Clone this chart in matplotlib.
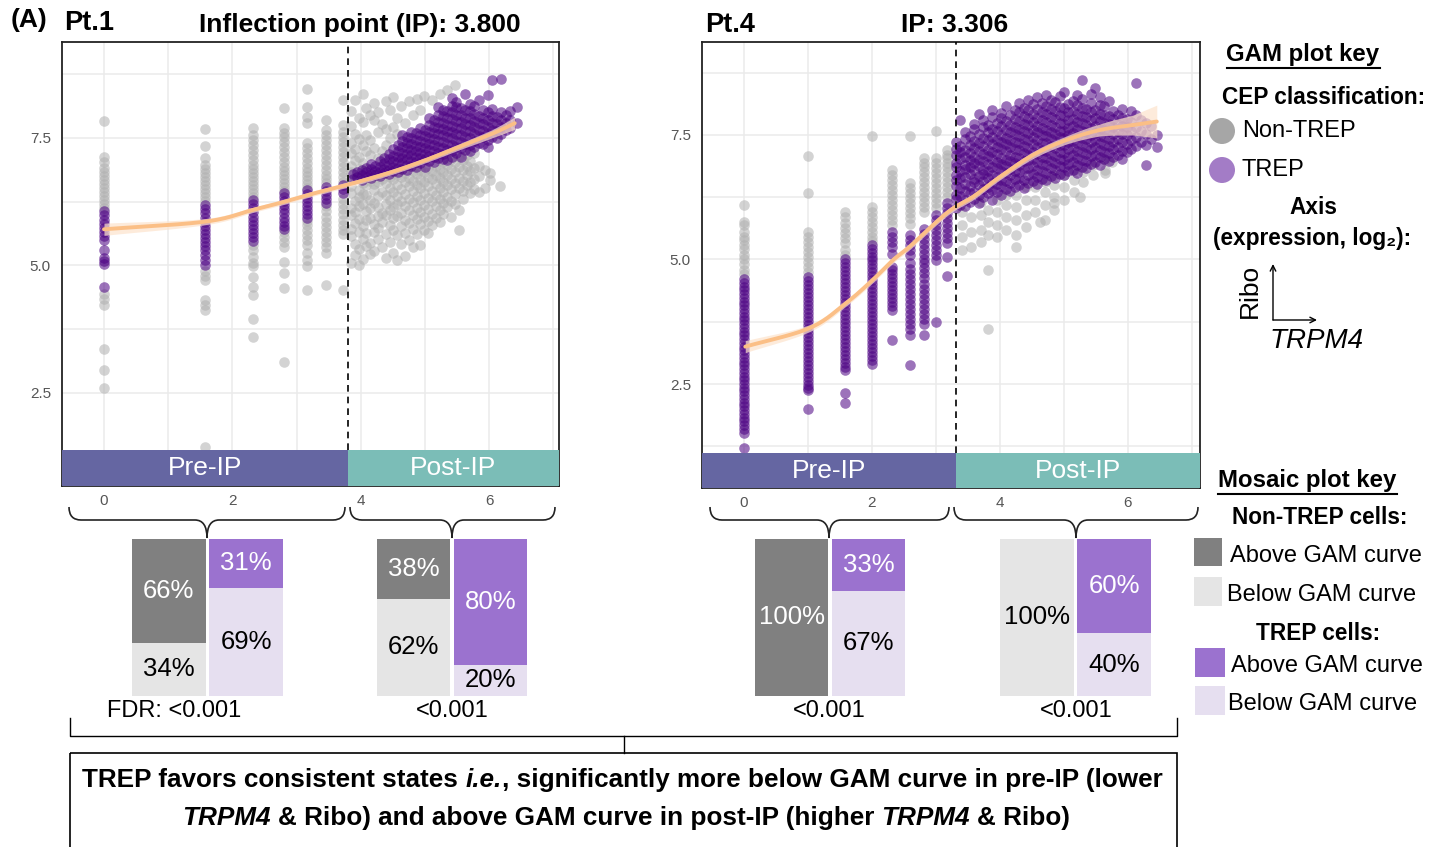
import matplotlib
matplotlib.use("Agg")
import matplotlib.pyplot as plt
from matplotlib.patches import Rectangle, Circle, PathPatch
from matplotlib.path import Path
import numpy as np

# ---------------- data ----------------
# GAM panels: columns of (log2 TRPM4 value, [Ribo values])
pt1_pre_x = [0.0, 1.58, 2.32, 2.81, 3.17, 3.46, 3.72]
pt1_pre_non = [
    [7.83, 7.12, 7.02, 6.92, 6.84, 6.76, 6.68, 6.60, 6.52, 6.44, 6.36, 6.28, 6.20, 6.12,
     4.45, 4.35, 4.22, 3.37, 2.95, 2.60],
    [7.67, 7.34, 7.10, 6.98, 6.90, 6.82, 6.74, 6.66, 6.58, 6.50, 6.42, 6.34, 6.26,
     4.90, 4.80, 4.71, 4.32, 4.22, 4.12, 1.45],
    [7.69, 7.56, 7.46, 7.36, 7.26, 7.16, 7.07, 6.98, 6.90, 6.82, 6.74, 6.66, 6.58, 6.50,
     6.42, 6.34, 5.40, 5.30, 5.17, 5.05, 4.98, 4.78, 4.58, 4.42, 3.96, 3.60],
    [8.08, 7.69, 7.60, 7.52, 7.42, 7.33, 7.23, 7.13, 7.03, 6.94, 6.86, 6.78, 6.70, 6.62,
     6.54, 6.46, 5.66, 5.56, 5.46, 5.37, 5.07, 4.85, 4.55, 3.11],
    [8.47, 8.11, 7.92, 7.79, 7.40, 7.30, 7.20, 7.10, 7.00, 6.92, 6.84, 6.76, 6.68, 6.60,
     6.52, 5.88, 5.80, 5.70, 5.60, 5.50, 5.40, 5.24, 5.11, 4.98, 4.52],
    [7.85, 7.66, 7.56, 7.46, 7.36, 7.26, 7.16, 7.07, 6.97, 6.87, 6.78, 6.70, 6.62, 6.16,
     6.06, 5.96, 5.86, 5.76, 5.66, 5.56, 5.46, 5.37, 5.24, 4.62],
    [8.24, 7.75, 7.62, 7.52, 7.43, 7.33, 7.23, 7.13, 7.03, 6.94, 6.84, 6.74, 6.64, 6.30,
     6.20, 6.10, 6.00, 5.90, 5.80, 5.70, 5.62, 4.52],
]
pt1_pre_trep = [
    [6.06, 5.98, 5.90, 5.82, 5.74, 5.66, 5.58, 5.50, 5.30, 5.14, 5.08, 5.02, 4.58],
    [6.18, 6.10, 6.02, 5.94, 5.86, 5.78, 5.70, 5.62, 5.54, 5.46, 5.38, 5.30, 5.20, 5.10, 5.00],
    [6.28, 6.20, 6.12, 6.04, 5.96, 5.88, 5.80, 5.72, 5.64, 5.56, 5.48],
    [6.42, 6.34, 6.26, 6.18, 6.10, 6.02, 5.94, 5.86, 5.78, 5.72],
    [6.48, 6.40, 6.32, 6.24, 6.16, 6.08, 6.00, 5.94],
    [6.54, 6.46, 6.38, 6.30, 6.22],
    [6.58, 6.50, 6.42],
]
pt1_post_non = [
    (3.85, [8.02, 7.74, 7.41, 7.20, 6.96, 6.83, 6.55, 6.43, 6.12, 5.99, 5.71, 5.58, 5.05]),
    (3.91, [8.25, 7.58, 7.29, 7.07, 6.71, 6.27, 6.05, 5.83, 5.42, 5.20]),
    (3.97, [7.90, 7.48, 7.13, 6.90, 6.48, 6.34, 6.16, 5.92, 5.66, 5.32, 5.01]),
    (4.03, [8.37, 7.81, 7.36, 7.00, 6.62, 6.41, 6.21, 5.77, 5.52, 5.12]),
    (4.09, [8.09, 7.55, 7.24, 6.57, 6.38, 6.07, 5.89, 5.63, 5.38]),
    (4.15, [7.95, 7.46, 7.16, 6.65, 6.29, 6.12, 5.94, 5.44, 5.22]),
    (4.21, [8.18, 7.86, 7.31, 6.60, 6.48, 6.23, 5.82, 5.66, 5.28]),
    (4.27, [8.01, 7.62, 7.11, 6.64, 6.36, 6.15, 5.97, 5.74, 5.51]),
    (4.33, [7.78, 7.25, 6.70, 6.45, 6.03, 5.86, 5.36]),
    (4.39, [8.23, 7.68, 7.36, 6.62, 6.39, 6.20, 5.99, 5.61, 5.14]),
    (4.45, [8.05, 7.49, 6.73, 6.52, 6.28, 6.08, 5.80, 5.47]),
    (4.51, [8.31, 7.71, 6.69, 6.44, 6.14, 5.93, 5.69, 5.25]),
    (4.57, [7.89, 7.58, 6.78, 6.58, 6.36, 6.21, 5.97, 5.59, 5.11]),
    (4.63, [8.12, 6.74, 6.49, 6.26, 6.02, 5.78, 5.43]),
    (4.69, [7.80, 6.81, 6.63, 6.41, 6.17, 5.89, 5.64, 5.19]),
    (4.75, [8.22, 6.71, 6.55, 6.31, 6.09, 5.84, 5.50]),
    (4.81, [7.95, 6.85, 6.66, 6.46, 6.24, 5.98, 5.72, 5.36]),
    (4.87, [8.26, 6.79, 6.57, 6.37, 6.13, 5.91, 5.61]),
    (4.93, [8.05, 6.88, 6.70, 6.52, 6.29, 6.05, 5.82, 5.40]),
    (4.99, [8.33, 6.84, 6.63, 6.42, 6.19, 5.95, 5.70]),
    (5.05, [6.92, 6.74, 6.55, 6.33, 6.10, 5.88, 5.64]),
    (5.11, [8.24, 6.86, 6.69, 6.47, 6.27, 6.01, 5.79]),
    (5.17, [6.96, 6.78, 6.59, 6.38, 6.16, 5.93]),
    (5.23, [8.37, 6.90, 6.72, 6.52, 6.30, 6.08, 5.86]),
    (5.29, [7.02, 6.83, 6.63, 6.44, 6.22, 6.00]),
    (5.35, [8.45, 6.97, 6.77, 6.57, 6.35, 6.14]),
    (5.41, [7.08, 6.89, 6.69, 6.49, 6.26, 5.96]),
    (5.47, [8.54, 7.03, 6.84, 6.62, 6.41, 6.20]),
    (5.53, [7.12, 6.93, 6.72, 6.52, 6.09, 5.69]),
    (5.59, [7.06, 6.87, 6.66, 6.46, 6.31]),
    (5.65, [7.16, 6.96, 6.78, 6.57]),
    (5.71, [7.04, 6.85, 6.63, 6.42]),
    (5.77, [7.20, 6.92, 6.70, 6.50]),
    (5.85, [6.95, 6.75, 6.45]),
    (5.94, [6.88, 6.52]),
    (6.02, [6.81, 6.67]),
    (6.17, [6.55]),
]
pt1_post_trep = [
    (3.88, [6.70, 6.79]),
    (3.95, [6.73, 6.84]),
    (4.02, [6.68, 6.77, 6.88]),
    (4.09, [6.74, 6.83, 6.92]),
    (4.16, [6.71, 6.80, 6.90, 6.99]),
    (4.23, [6.78, 6.86, 6.96]),
    (4.30, [6.75, 6.84, 6.93, 7.04]),
    (4.37, [6.81, 6.90, 7.00, 7.10]),
    (4.44, [6.79, 6.88, 6.97, 7.08, 7.18]),
    (4.51, [6.85, 6.94, 7.05, 7.15, 7.28]),
    (4.58, [6.83, 6.92, 7.02, 7.12, 7.24, 7.36]),
    (4.65, [6.90, 7.00, 7.10, 7.21, 7.33, 7.44, 7.55]),
    (4.72, [6.88, 6.98, 7.08, 7.19, 7.30, 7.41, 7.52]),
    (4.79, [6.95, 7.05, 7.16, 7.27, 7.38, 7.50, 7.62]),
    (4.86, [6.93, 7.03, 7.13, 7.24, 7.35, 7.47, 7.60]),
    (4.93, [7.00, 7.10, 7.21, 7.32, 7.44, 7.56, 7.70]),
    (5.00, [6.93, 7.08, 7.19, 7.30, 7.41, 7.53, 7.66]),
    (5.07, [7.04, 7.15, 7.26, 7.38, 7.50, 7.62, 7.75, 7.90]),
    (5.14, [7.02, 7.13, 7.24, 7.36, 7.48, 7.60, 7.72, 7.86]),
    (5.21, [7.10, 7.21, 7.33, 7.45, 7.57, 7.69, 7.82, 7.95, 8.10]),
    (5.28, [7.08, 7.19, 7.31, 7.43, 7.55, 7.67, 7.80, 7.93, 8.05]),
    (5.35, [7.07, 7.27, 7.39, 7.51, 7.63, 7.76, 7.89, 8.02]),
    (5.42, [7.13, 7.25, 7.37, 7.49, 7.61, 7.74, 7.87, 8.00, 8.12, 8.28]),
    (5.49, [7.21, 7.33, 7.45, 7.57, 7.70, 7.83, 7.96, 8.10, 8.20]),
    (5.56, [7.13, 7.31, 7.43, 7.56, 7.69, 7.82, 7.95, 8.08]),
    (5.63, [7.27, 7.39, 7.51, 7.64, 7.77, 7.90, 8.04, 8.37]),
    (5.70, [7.25, 7.37, 7.50, 7.63, 7.76, 7.89, 8.02, 8.16]),
    (5.77, [7.33, 7.45, 7.58, 7.71, 7.84, 7.98, 8.12]),
    (5.84, [7.40, 7.53, 7.66, 7.79, 7.93, 8.24]),
    (5.91, [7.38, 7.51, 7.64, 7.77, 7.90, 8.04]),
    (5.98, [7.32, 7.46, 7.59, 7.72, 7.86, 8.00, 8.34]),
    (6.05, [7.52, 7.65, 7.79, 7.93, 8.07, 8.64]),
    (6.12, [7.50, 7.63, 7.77, 7.91]),
    (6.19, [7.58, 7.72, 7.86, 8.00, 8.65]),
    (6.26, [7.66, 7.80, 7.95]),
    (6.33, [7.70, 7.85, 8.02]),
    (6.43, [7.79, 8.11]),
]
pt1_gam_x = [0.0, 1.58, 2.32, 2.81, 3.17, 3.72, 3.99, 4.50, 5.02, 5.54, 6.06, 6.40]
pt1_gam_y = [5.71, 5.86, 6.09, 6.25, 6.38, 6.56, 6.65, 6.84, 7.07, 7.33, 7.59, 7.79]
pt1_gam_se = [0.12, 0.06, 0.05, 0.05, 0.05, 0.05, 0.05, 0.05, 0.05, 0.06, 0.08, 0.12]

pt4_pre_x = [0.0, 1.0, 1.58, 2.0, 2.32, 2.59, 2.81, 3.0, 3.17]
pt4_pre_non = [
    [6.09, 5.75, 5.69, 5.55, 5.45, 5.39, 5.30, 5.22, 5.10, 5.02, 4.90, 4.79, 4.70],
    [7.07, 6.33, 5.55, 5.45, 5.35, 5.25, 5.15, 5.05, 4.95, 4.85, 4.75],
    [5.96, 5.85, 5.73, 5.63, 5.53, 5.43, 5.33, 5.19, 5.10],
    [7.47, 6.06, 5.96, 5.86, 5.76, 5.66, 5.56, 5.46, 5.38],
    [6.80, 6.70, 6.60, 6.50, 6.40, 6.30, 6.20, 6.10, 6.00, 5.90, 5.80, 5.70],
    [7.47, 6.53, 6.43, 6.33, 6.23, 6.13, 6.03, 5.93, 5.83, 5.72],
    [7.03, 6.93, 6.86, 6.76, 6.66, 6.56, 6.46, 6.36, 6.26, 6.16, 6.06, 5.96],
    [7.57, 7.03, 6.93, 6.83, 6.73, 6.63, 6.53, 6.43, 6.33, 6.23, 6.13, 6.03],
    [7.20, 7.10, 7.03, 6.93, 6.86, 6.76, 6.66, 6.56, 6.46, 6.36, 6.26],
]
pt4_pre_trep = [
    [4.60, 4.52, 4.45, 4.38, 4.30, 4.22, 4.15, 4.08, 4.00, 3.92, 3.85, 3.78, 3.70, 3.62,
     3.55, 3.48, 3.40, 3.32, 3.25, 3.18, 3.10, 3.02, 2.95, 2.88, 2.80, 2.72, 2.65, 2.58,
     2.50, 2.42, 2.35, 2.28, 2.20, 2.12, 2.05, 1.98, 1.90, 1.82, 1.75, 1.68, 1.60, 1.52, 1.21],
    [4.65, 4.57, 4.49, 4.41, 4.33, 4.25, 4.17, 4.09, 4.01, 3.93, 3.85, 3.77, 3.69, 3.61,
     3.53, 3.45, 3.37, 3.29, 3.21, 3.13, 3.05, 2.97, 2.89, 2.81, 2.73, 2.65, 2.57, 2.49,
     2.42, 2.38, 1.99],
    [5.00, 4.92, 4.84, 4.76, 4.68, 4.60, 4.52, 4.44, 4.36, 4.28, 4.20, 4.12, 4.04, 3.96,
     3.88, 3.80, 3.72, 3.64, 3.56, 3.48, 3.40, 3.32, 3.24, 3.16, 3.08, 3.00, 2.92, 2.84,
     2.78, 2.31, 2.11],
    [5.30, 5.22, 5.14, 5.06, 4.98, 4.90, 4.82, 4.74, 4.66, 4.58, 4.50, 4.42, 4.34, 4.26,
     4.18, 4.10, 4.02, 3.94, 3.86, 3.78, 3.70, 3.62, 3.54, 3.46, 3.38, 3.30, 3.22, 3.14,
     3.06, 2.98, 2.90],
    [5.55, 5.45, 5.36, 5.25, 5.12, 4.85, 4.78, 4.70, 4.62, 4.54, 4.46, 4.38, 4.30, 4.22,
     4.14, 4.06, 3.99, 3.39],
    [5.50, 5.40, 5.30, 5.20, 5.10, 4.92, 4.80, 4.70, 4.60, 4.50, 4.40, 4.30, 4.20, 4.10,
     4.00, 3.90, 3.80, 3.70, 3.60, 3.48, 2.88],
    [5.62, 5.52, 5.42, 5.32, 5.22, 5.12, 5.02, 4.92, 4.82, 4.72, 4.62, 4.50, 4.40, 4.30,
     4.20, 4.10, 4.00, 3.90, 3.80, 3.70, 3.48],
    [5.90, 5.80, 5.70, 5.60, 5.50, 5.40, 5.30, 5.20, 5.10, 4.99, 3.75],
    [6.13, 6.03, 5.93, 5.83, 5.73, 5.63, 5.53, 5.43, 5.33, 5.06, 4.66],
]
pt4_post_non = [
    (3.40, [5.20, 5.45, 5.70, 5.95]),
    (3.55, [5.25, 5.55, 5.85]),
    (3.70, [5.35, 5.60, 5.90, 6.15]),
    (3.82, [3.60, 4.79, 5.50, 5.75, 6.00]),
    (3.95, [5.45, 5.70, 5.95, 6.20]),
    (4.10, [5.60, 5.85, 6.10, 6.30]),
    (4.25, [5.26, 5.50, 5.80, 6.05, 6.30]),
    (4.40, [5.65, 5.90, 6.20, 6.45]),
    (4.55, [5.95, 6.20, 6.45]),
    (4.62, [5.76]),
    (4.70, [5.80, 6.10, 6.35, 6.55]),
    (4.85, [6.00, 6.13, 6.25, 6.50, 6.70]),
    (5.00, [6.20, 6.45, 6.70]),
    (5.15, [6.35, 6.60, 6.80]),
    (5.25, [6.26]),
    (5.30, [6.55, 6.75]),
    (5.45, [6.70, 6.90]),
    (5.64, [6.73, 6.80, 7.00]),
    (5.75, [6.95]),
]
pt4_post_trep = [
    (3.32, [6.04, 6.21, 6.30, 6.47, 6.59, 6.70, 6.86, 6.93, 7.09, 7.22, 7.35]),
    (3.38, [6.10, 6.27, 6.44, 6.63, 6.78, 7.01, 7.15, 7.28, 7.80]),
    (3.45, [6.08, 6.19, 6.38, 6.51, 6.65, 6.82, 6.90, 7.06, 7.19, 7.41, 7.55]),
    (3.53, [6.16, 6.33, 6.47, 6.72, 6.85, 6.99, 7.13, 7.30, 7.47]),
    (3.60, [6.22, 6.36, 6.55, 6.62, 6.79, 6.94, 7.05, 7.24, 7.37, 7.62, 7.73]),
    (3.67, [6.14, 6.29, 6.49, 6.68, 6.87, 7.00, 7.18, 7.33, 7.51, 7.92]),
    (3.74, [6.26, 6.41, 6.58, 6.71, 6.80, 6.97, 7.11, 7.27, 7.44, 7.66, 7.81]),
    (3.81, [6.33, 6.45, 6.63, 6.77, 6.91, 7.08, 7.20, 7.39, 7.55, 7.70]),
    (3.88, [6.20, 6.39, 6.54, 6.69, 6.85, 7.02, 7.15, 7.31, 7.46, 7.62, 7.87, 8.01]),
    (3.95, [6.36, 6.51, 6.66, 6.83, 6.96, 7.12, 7.26, 7.40, 7.58, 7.75]),
    (4.02, [6.30, 6.47, 6.60, 6.78, 6.92, 7.04, 7.21, 7.36, 7.49, 7.68, 7.84, 7.95]),
    (4.09, [6.42, 6.58, 6.73, 6.88, 7.00, 7.17, 7.31, 7.43, 7.61, 7.79, 8.08]),
    (4.16, [6.38, 6.53, 6.69, 6.81, 6.98, 7.10, 7.25, 7.40, 7.55, 7.70, 7.90]),
    (4.23, [6.46, 6.61, 6.77, 6.93, 7.06, 7.22, 7.35, 7.51, 7.66, 7.82, 8.00]),
    (4.30, [6.50, 6.64, 6.75, 6.90, 7.03, 7.19, 7.33, 7.47, 7.62, 7.78, 7.96, 8.14]),
    (4.37, [6.44, 6.59, 6.82, 6.97, 7.13, 7.28, 7.42, 7.58, 7.73, 7.89, 8.05]),
    (4.44, [6.54, 6.70, 6.84, 6.99, 7.09, 7.24, 7.39, 7.54, 7.70, 7.85, 8.01, 8.20]),
    (4.51, [6.58, 6.72, 6.88, 7.02, 7.16, 7.31, 7.45, 7.60, 7.76, 7.93, 8.12]),
    (4.58, [6.51, 6.66, 6.80, 6.95, 7.11, 7.26, 7.40, 7.55, 7.68, 7.84, 8.02, 8.27]),
    (4.65, [6.62, 6.77, 6.92, 7.06, 7.20, 7.34, 7.49, 7.64, 7.80, 7.97, 8.15]),
    (4.72, [6.60, 6.74, 6.89, 7.04, 7.18, 7.33, 7.47, 7.61, 7.77, 7.92, 8.09, 8.30]),
    (4.79, [6.68, 6.83, 6.97, 7.12, 7.27, 7.41, 7.56, 7.71, 7.86, 8.03, 8.21]),
    (4.86, [6.64, 6.79, 6.94, 7.08, 7.23, 7.38, 7.52, 7.67, 7.83, 7.99, 8.17]),
    (4.93, [6.72, 6.87, 7.01, 7.16, 7.30, 7.45, 7.59, 7.74, 7.90, 8.07, 8.28]),
    (5.00, [6.69, 6.85, 7.00, 7.14, 7.29, 7.43, 7.58, 7.73, 7.88, 8.04, 8.36]),
    (5.07, [6.77, 6.91, 7.06, 7.21, 7.35, 7.50, 7.65, 7.80, 7.96, 8.13]),
    (5.14, [6.80, 6.95, 7.09, 7.24, 7.38, 7.53, 7.68, 7.83, 7.99, 8.19]),
    (5.21, [6.74, 6.89, 7.03, 7.18, 7.33, 7.47, 7.62, 7.77, 7.93, 8.10, 8.31]),
    (5.28, [6.86, 7.00, 7.15, 7.29, 7.44, 7.59, 7.74, 7.89, 8.05, 8.22, 8.60]),
    (5.35, [6.83, 6.97, 7.12, 7.26, 7.41, 7.56, 7.71, 7.86, 8.02]),
    (5.42, [6.92, 7.07, 7.21, 7.36, 7.50, 7.65, 7.80, 7.96, 8.14, 8.33]),
    (5.49, [6.96, 7.10, 7.25, 7.39, 7.54, 7.69, 7.84, 8.00, 8.45]),
    (5.56, [6.90, 7.05, 7.19, 7.34, 7.48, 7.63, 7.78, 7.93, 8.10, 8.26]),
    (5.63, [7.01, 7.15, 7.30, 7.45, 7.60, 7.75, 7.91, 8.08]),
    (5.70, [6.98, 7.13, 7.28, 7.42, 7.57, 7.72, 7.88, 8.18]),
    (5.77, [7.06, 7.21, 7.36, 7.51, 7.66, 7.82, 7.99]),
    (5.84, [7.10, 7.26, 7.41, 7.57, 7.73, 7.90]),
    (5.91, [7.02, 7.18, 7.35, 7.52, 7.68, 7.84, 8.02]),
    (5.98, [7.15, 7.32, 7.49, 7.66, 7.83]),
    (6.05, [7.22, 7.40, 7.58, 7.77, 7.98]),
    (6.12, [7.28, 7.46, 7.66, 7.90, 8.55]),
    (6.20, [7.36, 7.58, 7.80]),
    (6.28, [6.90, 7.30, 7.52, 7.74]),
    (6.36, [7.42, 7.68]),
    (6.45, [7.25, 7.50]),
]
pt4_gam_x = [0.02, 1.02, 1.59, 2.01, 2.33, 2.59, 3.01, 3.27, 3.58, 4.00, 4.52, 5.04, 5.56, 6.08, 6.45]
pt4_gam_y = [3.25, 3.62, 4.12, 4.59, 4.99, 5.26, 5.76, 6.03, 6.26, 6.66, 7.10, 7.40, 7.60, 7.70, 7.77]
pt4_gam_se = [0.12, 0.07, 0.06, 0.06, 0.06, 0.06, 0.06, 0.06, 0.06, 0.06, 0.07, 0.08, 0.12, 0.20, 0.33]

# mosaic plots: % of cells above the GAM curve
mosaic_non_above = [66, 38, 100, 0]
mosaic_trep_above = [31, 80, 33, 60]
mosaic_fdr = ["FDR: <0.001", "<0.001", "<0.001", "<0.001"]

summary_lines = [
    [("TREP favors consistent states", "normal"), ("i.e.", "italic"),
     (", significantly more below GAM curve in pre-IP (lower", "normal")],
    [("TRPM4", "italic"), ("& Ribo) and above GAM curve in post-IP (higher", "normal"),
     ("TRPM4", "italic"), ("& Ribo)", "normal")],
]

# ---------------- style ----------------
W, H = 1448, 847
plt.rcParams["font.family"] = ["Liberation Sans", "DejaVu Sans"]

GRAY_PT = "#b0b0b0"
PURPLE_PT = "#4b0082"
GAM_C = "#fbbf86"
PRE_C = "#6566a2"
POST_C = "#7bbdb7"
DARK_GRAY = "#808080"
LIGHT_GRAY = "#e5e5e5"
PURPLE = "#9b72cf"
LAVENDER = "#e6dff0"


def px_rect(x0, y0, x1, y1):
    return [x0 / W, 1 - y1 / H, (x1 - x0) / W, (y1 - y0) / H]


def flatten(xs, cols):
    fx = [x for x, ys in zip(xs, cols) for _ in ys]
    fy = [y for ys in cols for y in ys]
    return fx, fy


def flatten_pairs(cols):
    return flatten([c[0] for c in cols], [c[1] for c in cols])


def catmull_rom(xs, ys, n=16):
    p = np.column_stack([xs, ys])
    p = np.vstack([2 * p[0] - p[1], p, 2 * p[-1] - p[-2]])
    out = []
    t = np.linspace(0, 1, n, endpoint=False)[:, None]
    for i in range(1, len(p) - 2):
        p0, p1, p2, p3 = p[i - 1], p[i], p[i + 1], p[i + 2]
        out.append(0.5 * (2 * p1 + (-p0 + p2) * t + (2 * p0 - 5 * p1 + 4 * p2 - p3) * t ** 2
                          + (-p0 + 3 * p1 - 3 * p2 + p3) * t ** 3))
    out.append(p[-2][None, :])
    out = np.vstack(out)
    return out[:, 0], out[:, 1]


def gam_panel(rect, xlim, ylim, ip, non_xy, trep_xy, gx, gy, gse, band_frac):
    ax = fig.add_axes(px_rect(*rect))
    ax.set_xlim(*xlim)
    ax.set_ylim(*ylim)
    ax.set_xticks([0, 2, 4, 6])
    ax.set_xticks([1, 3, 5, 7], minor=True)
    ax.set_yticks([2.5, 5.0, 7.5])
    ax.set_yticks([1.25, 3.75, 6.25, 8.75], minor=True)
    ax.set_yticklabels(["2.5", "5.0", "7.5"])
    ax.grid(which="both", color="#ebebeb", lw=1.1, zorder=0)
    ax.set_axisbelow(True)
    ax.tick_params(which="both", length=0, labelsize=11, labelcolor="#555555")
    ax.tick_params(axis="x", pad=6)
    ax.tick_params(axis="y", pad=8)
    for s in ax.spines.values():
        s.set_color("#222222")
        s.set_linewidth(1.3)

    ax.scatter(*non_xy, s=58, c=GRAY_PT, alpha=0.55, linewidths=0, zorder=2)
    ax.scatter(*trep_xy, s=58, c=PURPLE_PT, alpha=0.55, linewidths=0, zorder=2.5)
    sx, sy = catmull_rom(gx, gy)
    se = np.interp(sx, gx, gse)
    ax.fill_between(sx, sy - se, sy + se, color="#fde3cc", alpha=0.7, lw=0, zorder=2.8)
    ax.plot(sx, sy, color=GAM_C, lw=2.8, zorder=3, solid_capstyle="round")

    tr = ax.get_xaxis_transform()
    ax.add_patch(Rectangle((xlim[0], 0), ip - xlim[0], band_frac, transform=tr,
                           color=PRE_C, lw=0, zorder=4))
    ax.add_patch(Rectangle((ip, 0), xlim[1] - ip, band_frac, transform=tr,
                           color=POST_C, lw=0, zorder=4))
    ax.text((xlim[0] + ip) / 2, band_frac / 2, "Pre-IP", transform=tr, color="white",
            fontsize=19, ha="center", va="center", zorder=5)
    ax.text((ip + xlim[1]) / 2, band_frac / 2, "Post-IP", transform=tr, color="white",
            fontsize=19, ha="center", va="center", zorder=5)
    ax.axvline(ip, ymin=band_frac, color="black", lw=1.2, ls=(0, (4, 3)), zorder=5)
    return ax


def brace(ax, x0, x1, xm, ytop=507, ymid=520, ytip=538, r=12):
    verts = [(x0, ytop), (x0, ymid), (x0 + r, ymid), (xm - r, ymid), (xm, ymid), (xm, ytip),
             (xm, ymid), (xm + r, ymid), (x1 - r, ymid), (x1, ymid), (x1, ytop)]
    codes = [Path.MOVETO, Path.CURVE3, Path.CURVE3, Path.LINETO, Path.CURVE3, Path.CURVE3,
             Path.CURVE3, Path.CURVE3, Path.LINETO, Path.CURVE3, Path.CURVE3]
    ax.add_patch(PathPatch(Path(verts, codes), fill=False, lw=1.2, ec="#222222"))


def rich_line(ax, xc, y, parts, **kw):
    # lay out mixed upright/italic runs side by side, centred on xc (pixels)
    r = fig.canvas.get_renderer()

    def width(s, style):
        t = ax.text(0, 0, s, style=style, **kw)
        w = t.get_window_extent(renderer=r).width
        t.remove()
        return w

    gap = width("a a", "normal") - width("aa", "normal")
    widths = [width(s, st) for s, st in parts]
    total = sum(widths) + gap * (len(parts) - 1)
    x = xc - total / 2
    for (s, st), w in zip(parts, widths):
        if s.startswith(","):
            x -= gap
        ax.text(x, y, s, style=st, ha="left", va="center", **kw)
        x += w + gap


fig = plt.figure(figsize=(W / 100, H / 100), dpi=100)

# overlay in pixel coordinates for annotations and keys
ov = fig.add_axes([0, 0, 1, 1])
ov.set_xlim(0, W)
ov.set_ylim(H, 0)
ov.axis("off")

# ---------------- GAM panels ----------------
a, b = flatten(pt1_pre_x, pt1_pre_non)
c, d = flatten_pairs(pt1_post_non)
p1_non = (a + c, b + d)
a, b = flatten(pt1_pre_x, pt1_pre_trep)
c, d = flatten_pairs(pt1_post_trep)
p1_trep = (a + c, b + d)
gam_panel((62, 42, 559, 486), (-0.654, 7.09), (0.676, 9.382), 3.800,
          p1_non, p1_trep, pt1_gam_x, pt1_gam_y, pt1_gam_se, 36 / 444)

a, b = flatten(pt4_pre_x, pt4_pre_non)
c, d = flatten_pairs(pt4_post_non)
p4_non = (a + c, b + d)
a, b = flatten(pt4_pre_x, pt4_pre_trep)
c, d = flatten_pairs(pt4_post_trep)
p4_trep = (a + c, b + d)
gam_panel((702, 42, 1200, 488), (-0.656, 7.125), (0.412, 9.367), 3.306,
          p4_non, p4_trep, pt4_gam_x, pt4_gam_y, pt4_gam_se, 35 / 446)

# titles
ov.text(29, 20, "(A)", fontsize=19, fontweight="bold", ha="center", va="center")
ov.text(64, 23, "Pt.1", fontsize=19.5, fontweight="bold", ha="left", va="center")
ov.text(360, 25, "Inflection point (IP): 3.800", fontsize=19, fontweight="bold",
        ha="center", va="center")
ov.text(705, 25, "Pt.4", fontsize=19.5, fontweight="bold", ha="left", va="center")
ov.text(955, 25, "IP: 3.306", fontsize=19, fontweight="bold", ha="center", va="center")

# ---------------- braces + mosaic plots ----------------
brace(ov, 69, 345, 207)
brace(ov, 350, 555, 452)
brace(ov, 710, 949, 829)
brace(ov, 954, 1198, 1076)

mosaic_px = [(130, 285), (375, 529), (753, 907), (998, 1153)]
fdr_px = [174, 452, 829, 1076]
for i, (x0, x1) in enumerate(mosaic_px):
    m = fig.add_axes(px_rect(x0, 539, x1, 696))
    m.set_xlim(-0.5, 1.5)
    m.set_ylim(0, 100)
    m.axis("off")
    aboves = [mosaic_non_above[i], mosaic_trep_above[i]]
    cols = [(DARK_GRAY, LIGHT_GRAY), (PURPLE, LAVENDER)]
    for j, a in enumerate(aboves):
        b = 100 - a
        m.bar(j, b, width=0.955, bottom=0, color=cols[j][1], lw=0)
        m.bar(j, a, width=0.955, bottom=b, color=cols[j][0], lw=0)
        if a > 0:
            m.text(j, b + a / 2, f"{a}%", color="white", fontsize=18.5,
                   ha="center", va="center")
        if b > 0:
            m.text(j, b / 2, f"{b}%", color="black", fontsize=18.5,
                   ha="center", va="center")
    ov.text(fdr_px[i], 711, mosaic_fdr[i], fontsize=17, ha="center", va="center")

# ---------------- summary box ----------------
ov.plot([70, 70, 1177, 1177], [718, 736, 736, 718], color="black", lw=1)
ov.plot([624, 624], [736, 753], color="black", lw=1)
ov.add_patch(Rectangle((70, 753), 1107, 110, fill=False, ec="black", lw=1.2))
rich_line(ov, 626, 780, summary_lines[0], fontsize=18.8, fontweight="bold")
rich_line(ov, 626, 818, summary_lines[1], fontsize=18.8, fontweight="bold")

# ---------------- GAM plot key ----------------
ov.text(1303, 55, "GAM plot key", fontsize=17.3, fontweight="bold", ha="center", va="center")
ov.plot([1227, 1380], [68, 68], color="black", lw=1.5)
ov.text(1324, 98, "CEP classification:", fontsize=16.3, fontweight="bold",
        ha="center", va="center")
ov.add_patch(Circle((1222, 131), 13, color="#a6a6a6", lw=0))
ov.text(1242, 131, "Non-TREP", fontsize=17, ha="left", va="center")
ov.add_patch(Circle((1222, 170), 13, color="#a37cc6", lw=0))
ov.text(1242, 170, "TREP", fontsize=17, ha="left", va="center")
ov.text(1313, 207, "Axis", fontsize=16.3, fontweight="bold", ha="center", va="center")
ov.text(1312, 239, "(expression, log\u2082):", fontsize=16.3, fontweight="bold",
        ha="center", va="center")
ov.text(1250, 291, "Ribo", fontsize=19, rotation=90, ha="center", va="center")
ov.annotate("", xy=(1273, 264), xytext=(1273, 320),
            arrowprops=dict(arrowstyle="->", lw=1, color="black", shrinkA=0, shrinkB=0))
ov.annotate("", xy=(1317, 320), xytext=(1273, 320),
            arrowprops=dict(arrowstyle="->", lw=1, color="black", shrinkA=0, shrinkB=0))
ov.text(1316, 341, "TRPM4", fontsize=20, style="italic", ha="center", va="center")

# ---------------- mosaic plot key ----------------
ov.text(1307, 481, "Mosaic plot key", fontsize=17.3, fontweight="bold", ha="center", va="center")
ov.plot([1218, 1397], [494, 494], color="black", lw=1.5)
ov.text(1320, 518, "Non-TREP cells:", fontsize=16.3, fontweight="bold", ha="center", va="center")
ov.add_patch(Rectangle((1194, 538), 28, 28, color=DARK_GRAY, lw=0))
ov.text(1230, 556, "Above GAM curve", fontsize=17, ha="left", va="center")
ov.add_patch(Rectangle((1194, 577), 28, 29, color=LIGHT_GRAY, lw=0))
ov.text(1227, 595, "Below GAM curve", fontsize=17, ha="left", va="center")
ov.text(1318, 633, "TREP cells:", fontsize=16.3, fontweight="bold", ha="center", va="center")
ov.add_patch(Rectangle((1195, 648), 30, 29, color=PURPLE, lw=0))
ov.text(1231, 666, "Above GAM curve", fontsize=17, ha="left", va="center")
ov.add_patch(Rectangle((1195, 686), 30, 29, color=LAVENDER, lw=0))
ov.text(1228, 704, "Below GAM curve", fontsize=17, ha="left", va="center")

fig.savefig("out.png", dpi=100)
